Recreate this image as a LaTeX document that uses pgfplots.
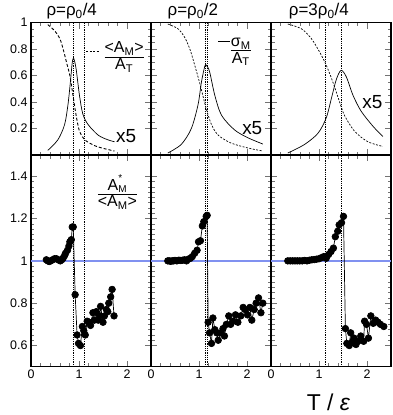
\documentclass[border=0pt]{standalone}
\usepackage{fontspec}
\setmainfont{Liberation Sans}
\usepackage{pgfplots}
\pgfplotsset{compat=1.18}
\definecolor{bluel}{RGB}{128,145,240}
\newcommand{\fs}[1]{\fontsize{#1}{#1}\selectfont}
\tikzset{
  vline/.style={black, line width=0.5pt, dash pattern=on 0.8pt off 1pt},
  dat/.style={black, line width=0.7pt, mark=*, mark size=3.3bp, mark options={solid, fill=black}},
}
\pgfplotsset{
  panel/.style={
    scale only axis, width=120bp, xmin=0, xmax=2.5,
    axis line style={line width=1.2pt},
    tick style={black!55, line width=0.5pt},
    major tick length=6bp, minor tick length=3.5bp,
    tick align=inside, xtick pos=both, ytick pos=both,
    xtick={0,1,2}, minor x tick num=4,
    clip=false,
    tick label style={font=\fs{12.5}},
    /pgf/number format/assume math mode=true,
  },
  toppanel/.style={panel, height=132.3bp, ymin=0, ymax=1,
    ytick={0.2,0.4,0.6,0.8,1}, minor y tick num=3, xticklabels={}},
  botpanel/.style={panel, height=211.7bp, ymin=0.5, ymax=1.5,
    ytick={0.6,0.8,1,1.2,1.4}, minor y tick num=7},
}
\begin{document}
\begin{tikzpicture}
% ---------------- top left
\begin{axis}[toppanel, at={(0bp,0bp)}, anchor=north west]
\addplot[black, line width=0.9pt, dash pattern=on 3pt off 2pt, smooth] coordinates {
(0.35,0.985)(0.49,0.94)(0.60,0.88)(0.67,0.80)(0.74,0.70)(0.81,0.60)(0.875,0.45)(0.94,0.30)(1.01,0.18)(1.12,0.115)(1.33,0.07)(1.54,0.047)(1.74,0.03)};
\addplot[black, line width=0.7pt, smooth] coordinates {
(0.35,0.035)(0.56,0.115)(0.70,0.23)(0.77,0.38)(0.82,0.55)(0.86,0.70)(0.89,0.73)(0.94,0.65)(1.01,0.45)(1.08,0.31)(1.19,0.23)(1.40,0.15)(1.60,0.115)(1.74,0.10)};
\draw[vline] (axis cs:0.87,0) -- (axis cs:0.87,1);
\draw[vline] (axis cs:1.11,0) -- (axis cs:1.11,1);
\draw[black, line width=0.6pt, dash pattern=on 2pt off 1.5pt] (axis cs:1.15,0.787) -- (axis cs:1.43,0.787);
\node[inner sep=0pt] at (axis cs:1.94,0.74) {$\displaystyle\frac{\mbox{\fs{16}<A\textsubscript{M}>}}{\mbox{\fs{16}A\textsubscript{T}}}$};
\node[font=\fs{19}] at (axis cs:1.98,0.14) {x5};
\node[font=\fs{17}, anchor=base west] at (rel axis cs:0.10,1.055) {ρ=ρ\textsubscript{0}/4};
\end{axis}
% ---------------- top middle
\begin{axis}[toppanel, at={(120bp,0bp)}, anchor=north west, yticklabels={}]
\addplot[black, line width=0.7pt, dash pattern=on 2pt off 1.5pt, smooth] coordinates {
(0.35,0.99)(0.56,0.955)(0.70,0.89)(0.81,0.80)(0.91,0.68)(1.01,0.55)(1.08,0.45)(1.15,0.35)(1.26,0.23)(1.40,0.15)(1.67,0.09)(2.02,0.053)(2.33,0.03)};
\addplot[black, line width=0.7pt, smooth] coordinates {
(0.35,0.015)(0.63,0.08)(0.84,0.20)(0.98,0.38)(1.05,0.55)(1.12,0.67)(1.15,0.68)(1.22,0.63)(1.33,0.45)(1.47,0.30)(1.74,0.19)(2.02,0.13)(2.33,0.083)};
\draw[vline] (axis cs:1.14,0) -- (axis cs:1.14,1);
\draw[vline] (axis cs:1.17,0) -- (axis cs:1.17,1);
\draw[black, line width=0.8pt] (axis cs:1.40,0.86) -- (axis cs:1.64,0.86);
\node[inner sep=0pt] at (axis cs:1.87,0.78) {$\displaystyle\frac{\mbox{\fs{16}σ\textsubscript{M}}}{\mbox{\fs{16}A\textsubscript{T}}}$};
\node[font=\fs{19}] at (axis cs:2.11,0.205) {x5};
\node[font=\fs{17}, anchor=base west] at (rel axis cs:0.11,1.055) {ρ=ρ\textsubscript{0}/2};
\end{axis}
% ---------------- top right
\begin{axis}[toppanel, at={(240bp,0bp)}, anchor=north west, yticklabels={}]
\addplot[black, line width=0.7pt, dash pattern=on 2pt off 1.5pt, smooth] coordinates {
(0.35,0.99)(0.63,0.955)(0.84,0.88)(1.01,0.78)(1.15,0.68)(1.29,0.55)(1.43,0.40)(1.53,0.30)(1.74,0.18)(2.02,0.10)(2.33,0.065)};
\addplot[black, line width=0.7pt, smooth] coordinates {
(0.35,0.015)(0.70,0.08)(0.98,0.165)(1.15,0.28)(1.26,0.43)(1.36,0.57)(1.46,0.64)(1.57,0.59)(1.71,0.45)(1.88,0.33)(2.13,0.215)(2.33,0.14)};
\draw[vline] (axis cs:1.12,0) -- (axis cs:1.12,1);
\draw[vline] (axis cs:1.46,0) -- (axis cs:1.46,1);
\node[font=\fs{19}] at (axis cs:2.11,0.40) {x5};
\node[font=\fs{17}, anchor=base west] at (rel axis cs:0.12,1.055) {ρ=3ρ\textsubscript{0}/4};
\end{axis}
% ---------------- bottom left
\begin{axis}[botpanel, at={(0bp,-132.3bp)}, anchor=north west]
\addplot[bluel, line width=1.5pt] coordinates {(0,1)(2.5,1)};
\draw[vline] (axis cs:0.87,0.5) -- (axis cs:0.87,1.5);
\draw[vline] (axis cs:1.11,0.5) -- (axis cs:1.11,1.5);
\addplot[dat] coordinates {
(0.32,1.005)(0.35,1.0)(0.38,0.997)(0.41,1.0)(0.45,1.005)(0.49,1.01)(0.53,1.01)(0.57,1.005)(0.61,1.0)(0.64,1.005)(0.67,1.013)(0.70,1.025)(0.72,1.036)(0.76,1.05)(0.79,1.07)(0.81,1.09)(0.84,1.10)(0.86,1.16)(0.88,1.16)(0.92,0.84)(0.96,0.65)(0.99,0.61)(1.03,0.60)(1.07,0.69)(1.10,0.67)(1.13,0.65)(1.17,0.715)(1.21,0.71)(1.24,0.695)(1.29,0.755)(1.32,0.72)(1.36,0.76)(1.40,0.72)(1.43,0.74)(1.45,0.785)(1.50,0.71)(1.53,0.74)(1.57,0.77)(1.60,0.76)(1.62,0.80)(1.66,0.83)(1.69,0.865)(1.73,0.74)};
\node[inner sep=0pt] at (axis cs:1.80,1.325) {$\displaystyle\frac{\mbox{\fs{16}A}^{\mbox{\fs{10}*}}_{\mbox{\fs{10}M}}}{\mbox{\fs{16}<A\textsubscript{M}>}}$};
\end{axis}
% ---------------- bottom middle
\begin{axis}[botpanel, at={(120bp,-132.3bp)}, anchor=north west, yticklabels={}]
\addplot[bluel, line width=1.5pt] coordinates {(0,1)(2.5,1)};
\draw[vline] (axis cs:1.14,0.5) -- (axis cs:1.14,1.5);
\draw[vline] (axis cs:1.17,0.5) -- (axis cs:1.17,1.5);
\addplot[dat] coordinates {
(0.35,1.0)(0.38,1.0)(0.41,0.998)(0.44,1.0)(0.47,1.0)(0.50,1.002)(0.54,1.0)(0.58,1.003)(0.62,1.002)(0.66,1.003)(0.70,1.005)(0.74,1.0)(0.78,1.008)(0.82,1.012)(0.86,1.02)(0.91,1.036)(0.96,1.05)(0.99,1.09)(1.03,1.095)(1.07,1.165)(1.10,1.185)(1.15,1.21)(1.17,1.215)(1.19,0.71)(1.22,0.66)(1.26,0.61)(1.29,0.73)(1.33,0.675)(1.37,0.66)(1.40,0.625)(1.45,0.66)(1.50,0.68)(1.53,0.645)(1.57,0.70)(1.62,0.74)(1.66,0.70)(1.71,0.715)(1.76,0.745)(1.81,0.71)(1.87,0.74)(1.92,0.78)(1.96,0.77)(2.01,0.745)(2.06,0.78)(2.10,0.72)(2.15,0.77)(2.19,0.80)(2.24,0.825)(2.29,0.755)(2.33,0.80)};
\end{axis}
% ---------------- bottom right
\begin{axis}[botpanel, at={(240bp,-132.3bp)}, anchor=north west, yticklabels={}]
\addplot[bluel, line width=1.5pt] coordinates {(0,1)(2.5,1)};
\draw[vline] (axis cs:1.12,0.5) -- (axis cs:1.12,1.5);
\draw[vline] (axis cs:1.46,0.5) -- (axis cs:1.46,1.5);
\addplot[dat] coordinates {
(0.35,1.0)(0.40,1.0)(0.45,1.0)(0.50,1.0)(0.55,1.0)(0.60,1.0)(0.65,1.0)(0.70,1.002)(0.75,1.0)(0.80,1.003)(0.85,1.005)(0.90,1.006)(0.95,1.008)(1.00,1.01)(1.05,1.015)(1.10,1.02)(1.15,1.012)(1.20,1.03)(1.25,1.044)(1.30,1.06)(1.34,1.114)(1.39,1.14)(1.42,1.17)(1.47,1.18)(1.51,1.21)(1.55,0.68)(1.58,0.61)(1.63,0.60)(1.66,0.66)(1.70,0.62)(1.73,0.635)(1.77,0.605)(1.81,0.62)(1.87,0.645)(1.93,0.62)(1.95,0.715)(1.99,0.70)(2.03,0.635)(2.08,0.74)(2.13,0.705)(2.18,0.72)(2.23,0.71)(2.28,0.70)(2.35,0.69)};
\node[font=\fs{23}] at (axis cs:1.20,0.332) {T / \textit{ε}};
\end{axis}
\pgfresetboundingbox
\path[use as bounding box] (-31bp,22.7bp) rectangle (362bp,-392.3bp);
\end{tikzpicture}
\end{document}
